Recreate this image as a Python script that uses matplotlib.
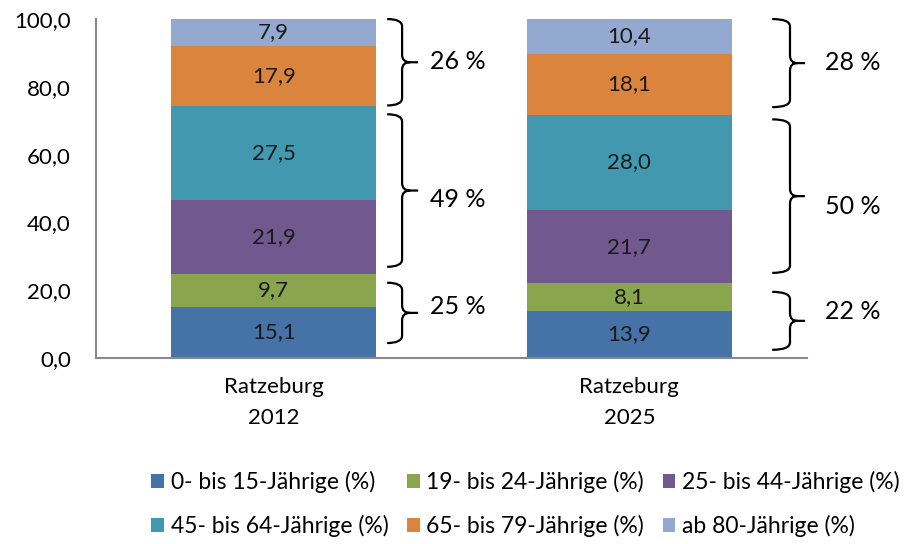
import matplotlib.pyplot as plt
from matplotlib.path import Path
from matplotlib.patches import PathPatch

plt.rcParams['font.family'] = ['Lato', 'DejaVu Sans']

categories = ['Ratzeburg\n2012', 'Ratzeburg\n2025']
groups = ['0- bis 15-Jährige (%)', '19- bis 24-Jährige (%)', '25- bis 44-Jährige (%)',
          '45- bis 64-Jährige (%)', '65- bis 79-Jährige (%)', 'ab 80-Jährige (%)']
values_2012 = [15.1, 9.7, 21.9, 27.5, 17.9, 7.9]
values_2025 = [13.9, 8.1, 21.7, 28.0, 18.1, 10.4]
colors = ['#4572A7', '#89A54E', '#71588F', '#4198AF', '#DB843D', '#93A9CF']

# bracket groups: (bar index, y bottom, y top, label, label y)
brackets = [
    (0, 4.4, 22.2, '25 %', 15.1), (0, 26.9, 71.9, '49 %', 46.7), (0, 74.5, 100.0, '26 %', 87.6),
    (1, 2.4, 19.5, '22 %', 13.6), (1, 25.1, 70.4, '50 %', 44.7), (1, 74.0, 100.0, '28 %', 87.3),
]
brace_x = [(0.319, 0.361, 0.406, 0.44), (1.402, 1.452, 1.494, 1.55)]

fig = plt.figure(figsize=(9.14, 5.44), dpi=100)
ax = fig.add_axes([0.105, 0.342, 0.778, 0.623])

data = [values_2012, values_2025]
x = [0, 1]
bottoms = [0, 0]
for i, g in enumerate(groups):
    vals = [data[0][i], data[1][i]]
    bars = ax.bar(x, vals, width=0.577, bottom=bottoms, color=colors[i], label=g)
    for j in range(2):
        ax.text(x[j], bottoms[j] + vals[j] / 2, f'{vals[j]:.1f}'.replace('.', ','),
                ha='center', va='center', fontsize=16, color='#1a1a1a')
    bottoms = [bottoms[k] + vals[k] for k in range(2)]


def brace(ax, x0, x1, xt, yb, yt, r=2.2):
    ym = (yb + yt) / 2
    dx = (xt - x1) * 0.5
    verts = [(x0, yt), (x1, yt), (x1, yt - r),
             (x1, ym + r), (x1, ym), (x1 + dx, ym), (xt, ym),
             (x1 + dx, ym), (x1, ym), (x1, ym - r),
             (x1, yb + r), (x1, yb), (x0, yb)]
    codes = [Path.MOVETO, Path.CURVE3, Path.CURVE3,
             Path.LINETO, Path.CURVE3, Path.CURVE3, Path.LINETO,
             Path.MOVETO, Path.CURVE3, Path.CURVE3,
             Path.LINETO, Path.CURVE3, Path.CURVE3]
    ax.add_patch(PathPatch(Path(verts, codes), fill=False, lw=1.6,
                           edgecolor='black', clip_on=False))


for bi, yb, yt, lab, ly in brackets:
    x0, x1, xt, xl = brace_x[bi]
    brace(ax, x0, x1, xt, yb, yt)
    ax.text(xl, ly, lab, ha='left', va='center', fontsize=18,
            color='black', clip_on=False)

ax.set_xlim(-0.5, 1.5)
ax.set_ylim(0, 100)
ax.set_yticks([0, 20, 40, 60, 80, 100])
ax.set_yticklabels([f'{v:.1f}'.replace('.', ',') for v in [0, 20, 40, 60, 80, 100]])
ax.set_xticks(x)
ax.set_xticklabels(categories, linespacing=1.65)
ax.tick_params(axis='y', length=0, pad=18, labelsize=16, colors='black')
ax.tick_params(axis='x', length=0, pad=14, labelsize=16, colors='black')
for s in ['top', 'right']:
    ax.spines[s].set_visible(False)
for s in ['left', 'bottom']:
    ax.spines[s].set_color('#898989')
    ax.spines[s].set_linewidth(1.5)

handles, labels = ax.get_legend_handles_labels()
order = [0, 3, 1, 4, 2, 5]
fig.legend([handles[i] for i in order], [labels[i] for i in order],
           loc='center', bbox_to_anchor=(0.575, 0.074), ncol=3, frameon=False,
           fontsize=16.5, handlelength=0.55, handleheight=0.55, handletextpad=0.3,
           columnspacing=0.8, labelspacing=0.95)

fig.savefig('out.png', dpi=100)
